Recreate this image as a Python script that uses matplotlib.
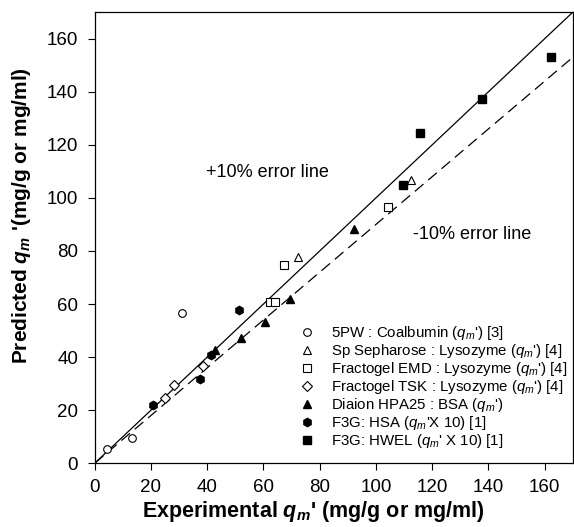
import matplotlib
matplotlib.use('Agg')
import matplotlib.pyplot as plt
import numpy as np

plt.rcParams['font.family'] = ['Liberation Sans', 'DejaVu Sans']
plt.rcParams['mathtext.fontset'] = 'custom'
plt.rcParams['mathtext.rm'] = 'Liberation Sans'
plt.rcParams['mathtext.it'] = 'Liberation Sans:italic'
plt.rcParams['mathtext.bf'] = 'Liberation Sans:bold'
plt.rcParams['mathtext.bfit'] = 'Liberation Sans:bold:italic'

# 5PW : Coalbumin
pw_x = [4.5, 13.1, 31.1]
pw_y = [5.3, 9.4, 56.6]
# Sp Sepharose : Lysozyme
sp_x = [72.4, 112.4]
sp_y = [77.6, 106.7]
# Fractogel EMD : Lysozyme
emd_x = [62.3, 64.1, 67.4, 104.3]
emd_y = [60.8, 60.8, 74.7, 96.5]
# Fractogel TSK : Lysozyme
tsk_x = [25.1, 28.2, 38.6]
tsk_y = [24.6, 29.6, 36.8]
# Diaion HPA25 : BSA
hpa_x = [42.9, 52.0, 60.6, 69.4, 92.1]
hpa_y = [42.5, 47.1, 53.4, 61.8, 88.1]
# F3G: HSA
hsa_x = [20.8, 37.6, 41.2, 51.2]
hsa_y = [21.8, 31.6, 40.7, 57.6]
# F3G: HWEL
hwel_x = [109.6, 115.7, 137.8, 162.3]
hwel_y = [105.0, 124.5, 137.2, 153.0]

fig = plt.figure(figsize=(5.74, 5.27), dpi=100)
ax = fig.add_axes([0.165, 0.121, 0.833, 0.856])

line_x = np.array([0, 170])
ax.plot(line_x, line_x, color='black', lw=0.9)
ax.plot(line_x, 0.9 * line_x, color='black', lw=0.9, dashes=(9, 5))

ms = 5.5
ax.plot(pw_x, pw_y, 'o', mfc='white', mec='black', mew=0.8, ms=ms,
        label=r"5PW : Coalbumin ($q_m$') [3]")
ax.plot(sp_x, sp_y, '^', mfc='white', mec='black', mew=0.8, ms=ms,
        label=r"Sp Sepharose : Lysozyme ($q_m$') [4]")
ax.plot(emd_x, emd_y, 's', mfc='white', mec='black', mew=0.8, ms=ms,
        label=r"Fractogel EMD : Lysozyme ($q_m$') [4]")
ax.plot(tsk_x, tsk_y, 'D', mfc='white', mec='black', mew=0.8, ms=5,
        label=r"Fractogel TSK : Lysozyme ($q_m$') [4]")
ax.plot(hpa_x, hpa_y, '^', color='black', ms=ms,
        label=r"Diaion HPA25 : BSA ($q_m$')")
ax.plot(hsa_x, hsa_y, 'h', color='black', ms=6,
        label=r"F3G: HSA ($q_m$'X 10) [1]")
ax.plot(hwel_x, hwel_y, 's', color='black', ms=6,
        label=r"F3G: HWEL ($q_m$' X 10) [1]")

ax.text(39.5, 108, '+10% error line', fontsize=13)
ax.text(113, 84.5, '-10% error line', fontsize=13)

ax.set_xlim(0, 170)
ax.set_ylim(0, 170)
ax.set_xticks(range(0, 161, 20))
ax.set_yticks(range(0, 161, 20))
ax.tick_params(direction='out', length=5, width=0.8, labelsize=13.5)
ax.tick_params(axis='x', pad=6)
ax.tick_params(axis='y', pad=7)
for s in ax.spines.values():
    s.set_linewidth(0.9)

ax.set_xlabel(r"Experimental $\mathbfit{q}_\mathbfit{m}$' (mg/g or mg/ml)",
              fontsize=15.5, fontweight='bold')
ax.set_ylabel(r"Predicted $\mathbfit{q}_\mathbfit{m}$ '(mg/g or mg/ml)",
              fontsize=15, fontweight='bold')
ax.xaxis.set_label_coords(0.457, -0.08)
ax.yaxis.set_label_coords(-0.13, 0.548)

ax.legend(loc='upper left', bbox_to_anchor=(0.415, 0.322), frameon=False,
          fontsize=10.8, labelspacing=0.0, handletextpad=1.1,
          handlelength=1.0, borderaxespad=0)

fig.savefig('out.png', dpi=100)
